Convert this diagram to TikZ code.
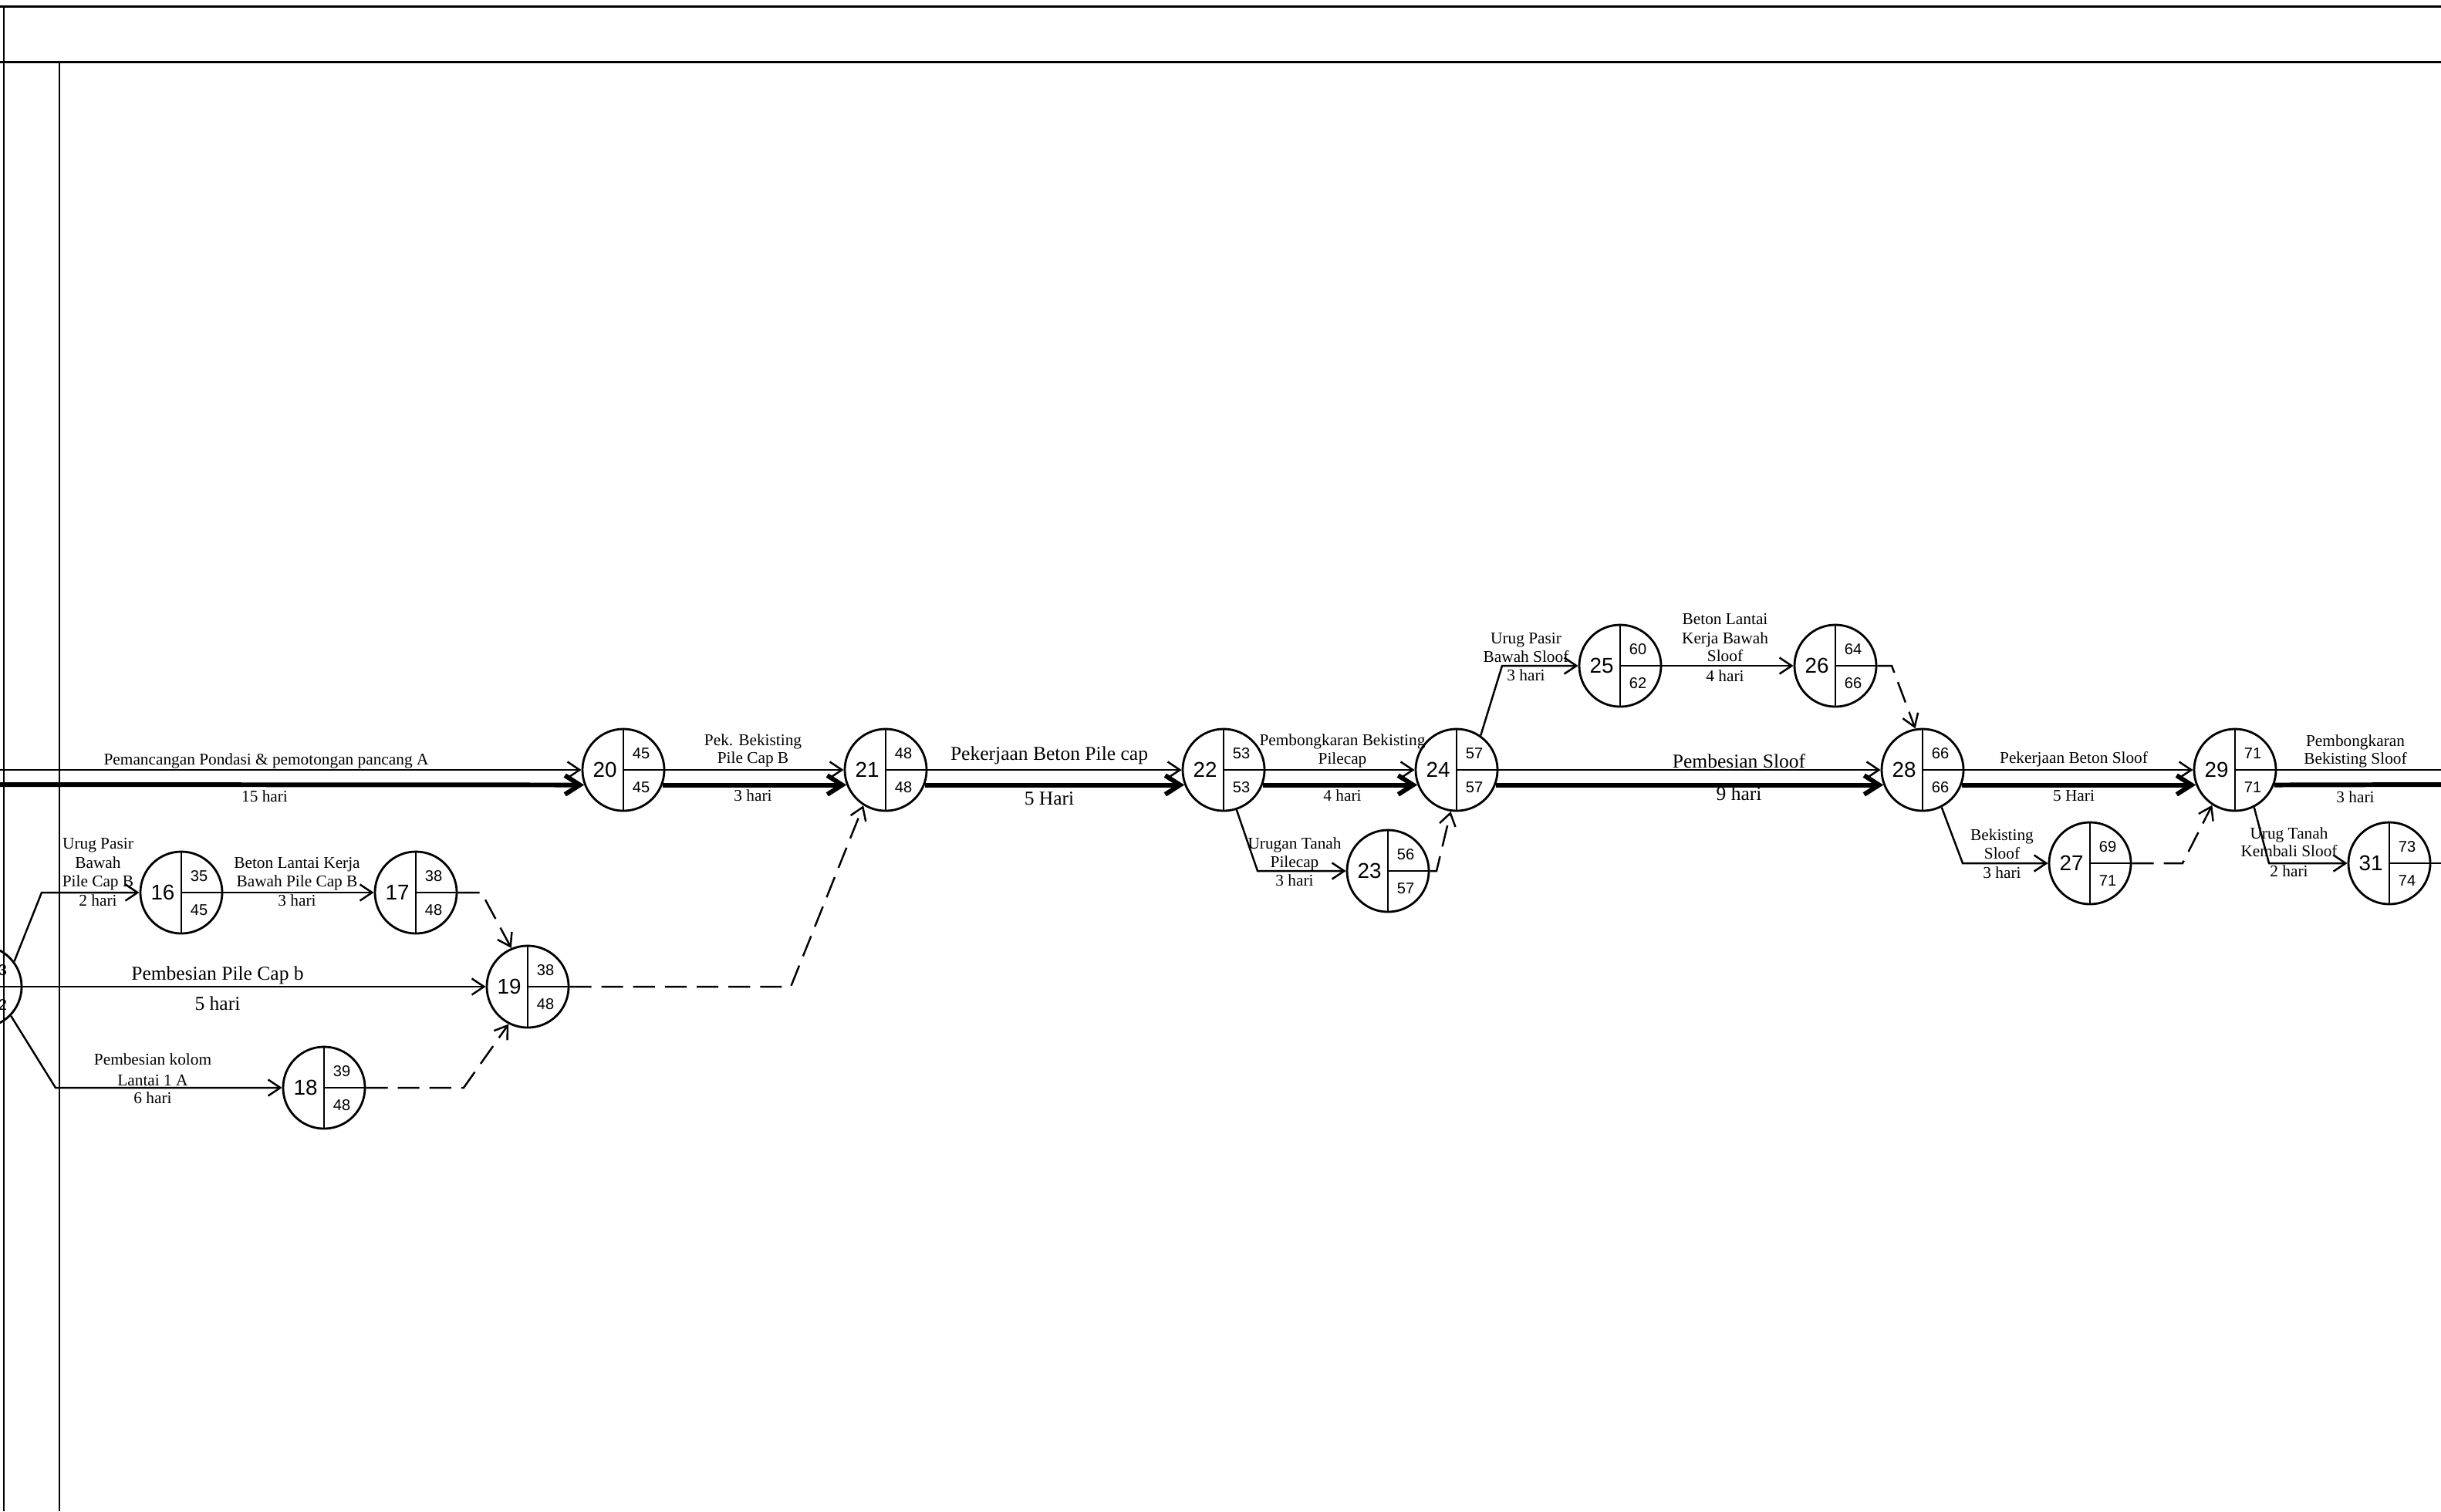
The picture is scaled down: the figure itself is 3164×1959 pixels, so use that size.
\documentclass[tikz,border=0pt]{standalone}
\usepackage{fontspec}
\setmainfont{Liberation Serif}
\newfontfamily\numfont{Liberation Sans}
\usetikzlibrary{arrows.meta,calc}

\tikzset{
  ev/.style={circle, draw, line width=0.8pt, minimum size=1.06cm, inner sep=0pt},
  divl/.style={line width=0.7pt},
  bignum/.style={font=\numfont\fontsize{7.9}{8}\selectfont, inner sep=0pt},
  smallnum/.style={font=\numfont\fontsize{5.7}{6}\selectfont, inner sep=0pt},
  lab/.style={font=\fontsize{6.06}{7}\selectfont, inner sep=0pt, anchor=base},
  labL/.style={font=\fontsize{7.26}{8}\selectfont, inner sep=0pt, anchor=base},
  act/.style={line width=0.7pt, -{Straight Barb[length=4.5pt,width=6pt]}},
  crit/.style={line width=1.7pt, -{Straight Barb[length=5.5pt,width=7pt]}},
  dum/.style={act, dash pattern=on 8pt off 3.7pt},
  frameline/.style={line width=0.85pt},
}

\newcommand{\evnode}[6]{%
  \node[ev] (#1) at (#2,#3) {};
  \draw[divl] (#1.north) -- (#1.south) (#1.center) -- (#1.east);
  \node[bignum] (#1-n) at ($(#1.center)+(-24,0)$) {#4};
  \node[smallnum] (#1-t) at ($(#1.center)+(23,-21)$) {#5};
  \node[smallnum] (#1-b) at ($(#1.center)+(23,23)$) {#6};
}
\newcommand{\lb}[4]{\node[lab] (#1) at (#2,#3) {#4};}
\newcommand{\lbL}[4]{\node[labL] (#1) at (#2,#3) {#4};}

\begin{document}
\begin{tikzpicture}[x=0.01cm, y=-0.01cm]
\useasboundingbox (0,0) rectangle (3164,1959);
\clip (0,0) rectangle (3164,1959);
\fill[white] (0,0) rectangle (3164,1959);

% frame
\draw[frameline] (0,8) -- (3164,8);
\draw[frameline] (0,80) -- (3164,80);
\draw[frameline] (5,8) -- (5,1959);
\draw[frameline] (77,80) -- (77,1959);

% event nodes
\evnode{n15}{-25}{1279}{15}{33}{42}
\evnode{n16}{235}{1157}{16}{35}{45}
\evnode{n17}{539}{1157}{17}{38}{48}
\evnode{n18}{420}{1410}{18}{39}{48}
\evnode{n19}{684}{1279}{19}{38}{48}
\evnode{n20}{808}{998}{20}{45}{45}
\evnode{n21}{1148}{998}{21}{48}{48}
\evnode{n22}{1586}{998}{22}{53}{53}
\evnode{n23}{1799}{1129}{23}{56}{57}
\evnode{n24}{1888}{998}{24}{57}{57}
\evnode{n25}{2100}{863}{25}{60}{62}
\evnode{n26}{2379}{863}{26}{64}{66}
\evnode{n28}{2492}{998}{28}{66}{66}
\evnode{n27}{2709}{1119}{27}{69}{71}
\evnode{n29}{2897}{998}{29}{71}{71}
\evnode{n31}{3097}{1119}{31}{73}{74}

% free ends
\coordinate (inA) at (0,998);
\coordinate (inB) at (0,1017);
\coordinate (outA) at (3164,998);
\coordinate (outB) at (3164,1017);
\coordinate (out31) at (3164,1119);
\coordinate (c16) at (54,1157);
\coordinate (c18) at (72,1410);
\coordinate (c17) at (624,1157);
\coordinate (c18b) at (601,1410);
\coordinate (c19) at (1025,1279);
\coordinate (c23) at (1630,1129);
\coordinate (c23b) at (1862,1129);
\coordinate (c25) at (1947,863);
\coordinate (c26) at (2452,863);
\coordinate (c27) at (2544,1119);
\coordinate (c27b) at (2829,1119);
\coordinate (c31) at (2941,1119);

% critical path (double: thin + thick)
\draw[act] (inA) -- (n20.west);
\draw[crit] (inB) -- (n20.201);
\foreach \a/\b in {n20/n21, n21/n22, n22/n24, n24/n28, n28/n29}{
  \draw[act] (\a.east) -- (\b.west);
  \draw[crit] (\a.339) -- (\b.201);
}
\draw[line width=0.7pt] (n29.east) -- (outA);
\draw[line width=1.7pt] (n29.339) -- (outB);

% other activities
\draw[act] (n15.37) -- (c16) -- (n16.west);
\draw[act] (n16.east) -- (n17.west);
\draw[act] (n15.east) -- (n19.west);
\draw[act] (n15.-44) -- (c18) -- (n18.west);
\draw[dum] (n17.east) -- (c17) -- (n19.113);
\draw[dum] (n18.east) -- (c18b) -- (n19.243);
\draw[dum] (n19.east) -- (c19) -- (n21.238);
\draw[act] (n22.288) -- (c23) -- (n23.west);
\draw[dum] (n23.east) -- (c23b) -- (n24.262);
\draw[act] (n24.55) -- (c25) -- (n25.west);
\draw[act] (n25.east) -- (n26.west);
\draw[dum] (n26.east) -- (c26) -- (n28.100);
\draw[act] (n28.297) -- (c27) -- (n27.west);
\draw[dum] (n27.east) -- (c27b) -- (n29.237);
\draw[act] (n29.297) -- (c31) -- (n31.west);
\draw[line width=0.7pt] (n31.east) -- (out31);

% labels
\lb{t1}{345}{991}{Pemancangan Pondasi \& pemotongan pancang A}
\lb{t2}{343}{1039}{15 hari}
\lb{t3}{127}{1100}{Urug Pasir}
\lb{t4}{127}{1125}{Bawah}
\lb{t5}{127}{1149}{Pile Cap B}
\lb{t6}{127}{1174}{2 hari}
\lb{t7}{385}{1125}{Beton Lantai Kerja}
\lb{t8}{385}{1149}{Bawah Pile Cap B}
\lb{t9}{385}{1174}{3 hari}
\lb{t10}{198}{1380}{Pembesian kolom}
\lb{t11}{198}{1407}{Lantai 1 A}
\lb{t12}{198}{1430}{6 hari}
\lb{t13}{976}{966}{Pek. Bekisting}
\lb{t14}{976}{989}{Pile Cap B}
\lb{t15}{976}{1038}{3 hari}
\lb{t16}{1740}{966}{Pembongkaran Bekisting}
\lb{t17}{1740}{990}{Pilecap}
\lb{t18}{1740}{1038}{4 hari}
\lb{t19}{1678}{1100}{Urugan Tanah}
\lb{t20}{1678}{1124}{Pilecap}
\lb{t21}{1678}{1148}{3 hari}
\lb{t22}{1978}{834}{Urug Pasir}
\lb{t23}{1978}{858}{Bawah Sloof}
\lb{t24}{1978}{882}{3 hari}
\lb{t25}{2236}{809}{Beton Lantai}
\lb{t26}{2236}{834}{Kerja Bawah}
\lb{t27}{2236}{857}{Sloof}
\lb{t28}{2236}{883}{4 hari}
\lb{t29}{2688}{989}{Pekerjaan Beton Sloof}
\lb{t30}{2688}{1038}{5 Hari}
\lb{t31}{2595}{1089}{Bekisting}
\lb{t32}{2595}{1113}{Sloof}
\lb{t33}{2595}{1138}{3 hari}
\lb{t34}{2967}{1087}{Urug Tanah}
\lb{t35}{2967}{1110}{Kembali Sloof}
\lb{t36}{2967}{1136}{2 hari}
\lb{t37}{3053}{967}{Pembongkaran}
\lb{t38}{3053}{990}{Bekisting Sloof}
\lb{t39}{3053}{1040}{3 hari}
\lbL{t40}{282}{1270}{Pembesian Pile Cap b}
\lbL{t41}{282}{1309}{5 hari}
\lbL{t42}{1360}{985}{Pekerjaan Beton Pile cap}
\lbL{t43}{1360}{1043}{5 Hari}
\lbL{t44}{2254}{995}{Pembesian Sloof}
\lbL{t45}{2254}{1037}{9 hari}
\end{tikzpicture}
\end{document}
